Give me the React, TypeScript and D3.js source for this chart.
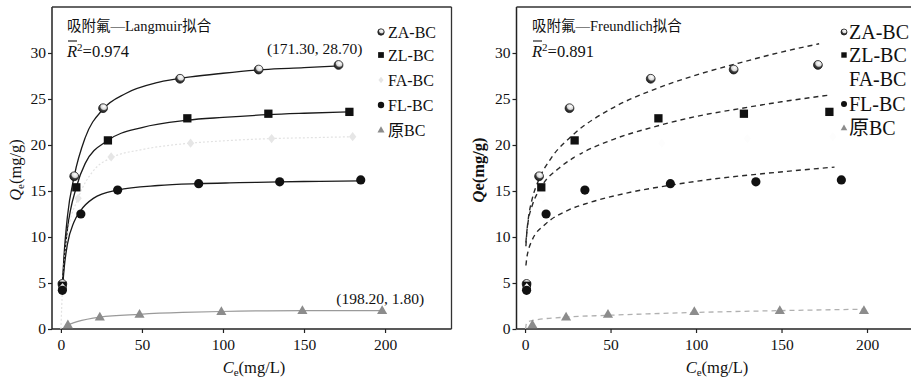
import React, { useEffect, useRef } from 'react';
import * as d3 from 'd3';

// measured points (Ce mg/L, Qe mg/g)
const zaCe = [0.9, 8.2, 26, 73.5, 122, 171.3];
const zaQe = [4.9, 16.6, 24.0, 27.2, 28.2, 28.7];
const zlCe = [1.0, 9.5, 29, 78, 128, 178];
const zlQe = [4.7, 15.4, 20.5, 22.9, 23.4, 23.6];
const faCe = [1.0, 10.6, 31, 80, 130, 180];
const faQe = [4.5, 14.2, 18.7, 20.2, 20.7, 20.9];
const flCe = [0.9, 12.3, 35, 85, 135, 185];
const flQe = [4.2, 12.5, 15.1, 15.8, 16.0, 16.2];
const rawCe = [4.3, 24, 48.5, 99, 149, 198.2];
const rawQe = [0.45, 1.3, 1.6, 1.9, 2.0, 2.0];

// Langmuir fit curves
const langZACe = [0.9, 2, 4, 8.2, 15, 26, 40, 60, 80, 100, 125, 150, 172];
const langZAQe = [4.9, 8.2, 12.2, 16.6, 20.8, 23.9, 25.6, 26.8, 27.4, 27.8, 28.2, 28.4, 28.6];
const langZLCe = [1, 2, 4, 9.5, 15, 29, 50, 78, 100, 128, 150, 178];
const langZLQe = [4.7, 7.4, 10.8, 15.4, 18.0, 20.5, 21.9, 22.7, 23.0, 23.3, 23.45, 23.6];
const langFACe = [0, 1, 2, 4, 10.6, 20, 31, 50, 80, 100, 130, 155, 180];
const langFAQe = [0, 4.5, 7.0, 10.2, 14.2, 17.2, 18.6, 19.5, 20.2, 20.45, 20.7, 20.8, 20.9];
const langFLCe = [0.9, 2, 4, 8, 12.3, 20, 35, 60, 85, 110, 135, 160, 185];
const langFLQe = [4.2, 6.6, 9.2, 11.6, 12.9, 14.2, 15.1, 15.6, 15.8, 15.9, 16.0, 16.05, 16.1];
const langRawCe = [4.3, 10, 24, 48.5, 75, 99, 149, 198.2];
const langRawQe = [0.45, 0.8, 1.3, 1.6, 1.8, 1.9, 2.0, 2.0];

// Freundlich fit curves
const frZACe = [0.5, 1, 2, 4, 8, 15, 28, 50, 75, 100, 125, 150, 172];
const frZAQe = [9.0, 10.4, 12.1, 14.0, 16.2, 18.5, 21.1, 23.9, 26.0, 27.6, 28.9, 30.1, 31.0];
const frZLCe = [0.5, 1, 2, 4, 10, 20, 33, 50, 76, 100, 127, 150, 177];
const frZLQe = [9.4, 10.5, 11.9, 13.3, 15.6, 17.5, 19.1, 20.5, 22.0, 23.1, 24.0, 24.7, 25.4];
const frFLCe = [0.5, 1, 2, 4, 12, 25, 37, 60, 84, 110, 140, 181];
const frFLQe = [6.9, 7.7, 8.6, 9.6, 11.4, 12.9, 13.7, 14.8, 15.6, 16.3, 16.9, 17.6];
const frRawCe = [0.3, 1, 5, 25, 50, 100, 150, 198];
const frRawQe = [0, 0.7, 0.95, 1.3, 1.5, 1.8, 2.0, 2.15];

const seriesNames = ['ZA-BC', 'ZL-BC', 'FA-BC', 'FL-BC', '原BC'];
const xTicks = [0, 50, 100, 150, 200];
const yTicks = [0, 5, 10, 15, 20, 25, 30];

const W = 911;
const H = 380;
const serif = '"Liberation Serif", "Times New Roman", Times, "DejaVu Serif", "Noto Sans CJK SC", serif';

type Marker = 'sphere' | 'square' | 'diamond' | 'circle' | 'triangle';

const drawMarker = (g: any, type: Marker, cx: number, cy: number, s: number, fill: string) => {
  if (type === 'sphere') {
    g.append('circle').attr('cx', cx).attr('cy', cy).attr('r', s)
      .attr('fill', 'url(#sphereGrad)').attr('stroke', '#1a1a1a').attr('stroke-width', 0.8);
  } else if (type === 'circle') {
    g.append('circle').attr('cx', cx).attr('cy', cy).attr('r', s).attr('fill', fill);
  } else if (type === 'square') {
    g.append('rect').attr('x', cx - s * 0.9).attr('y', cy - s * 0.9)
      .attr('width', s * 1.8).attr('height', s * 1.8).attr('fill', fill);
  } else if (type === 'diamond') {
    g.append('path')
      .attr('d', `M${cx},${cy - s}L${cx + s * 0.8},${cy}L${cx},${cy + s}L${cx - s * 0.8},${cy}Z`)
      .attr('fill', fill);
  } else {
    const h = s * 1.9;
    g.append('path')
      .attr('d', `M${cx},${cy - h * 0.6}L${cx + h * 0.58},${cy + h * 0.4}L${cx - h * 0.58},${cy + h * 0.4}Z`)
      .attr('fill', fill);
  }
};

const App = () => {
  const svgRef = useRef<SVGSVGElement>(null);

  useEffect(() => {
    const svg = d3.select(svgRef.current);
    svg.selectAll('*').remove();

    const defs = svg.append('defs');
    const grad = defs.append('radialGradient').attr('id', 'sphereGrad')
      .attr('cx', '0.6').attr('cy', '0.3').attr('r', '0.75');
    grad.append('stop').attr('offset', '0%').attr('stop-color', '#ffffff');
    grad.append('stop').attr('offset', '45%').attr('stop-color', '#d8d8d8');
    grad.append('stop').attr('offset', '62%').attr('stop-color', '#444');
    grad.append('stop').attr('offset', '100%').attr('stop-color', '#111');

    const y = d3.scaleLinear().domain([0, 35]).range([329, 7]);

    const pts = [
      { ce: zaCe, qe: zaQe, marker: 'sphere' as Marker, fill: '#222' },
      { ce: zlCe, qe: zlQe, marker: 'square' as Marker, fill: '#111' },
      { ce: faCe, qe: faQe, marker: 'diamond' as Marker, fill: '#e6e6e6' },
      { ce: flCe, qe: flQe, marker: 'circle' as Marker, fill: '#111' },
      { ce: rawCe, qe: rawQe, marker: 'triangle' as Marker, fill: '#8c8c8c' },
    ];

    const panels = [
      {
        xr: [52, 451.5], xd: [-5.5, 241], right: true,
        title: '吸附氟—Langmuir拟合', r2: '0.974', yBold: false,
        titleX: 67, axisTitleX: 254, yTitleX: 15,
        legX: 381, legTextX: 388, legRows: [32, 55, 80, 105, 130], legSize: 16, legMarker: 3.2,
        curves: [
          { ce: langZACe, qe: langZAQe, stroke: '#1a1a1a', dash: null, w: 1.3 },
          { ce: langZLCe, qe: langZLQe, stroke: '#1a1a1a', dash: null, w: 1.3 },
          { ce: langFACe, qe: langFAQe, stroke: '#e2e2e2', dash: '2,2', w: 1.2 },
          { ce: langFLCe, qe: langFLQe, stroke: '#1a1a1a', dash: null, w: 1.3 },
          { ce: langRawCe, qe: langRawQe, stroke: '#9a9a9a', dash: null, w: 1.2 },
        ],
        faLegend: '#e6e6e6', faFill: '#e6e6e6',
      },
      {
        xr: [516.5, 935.4], xd: [-5, 240], right: false,
        title: '吸附氟—Freundlich拟合', r2: '0.891', yBold: true,
        titleX: 532, axisTitleX: 717, yTitleX: 478,
        legX: 844, legTextX: 849, legRows: [32, 55, 79, 104, 128], legSize: 20, legMarker: 3,
        curves: [
          { ce: frZACe, qe: frZAQe, stroke: '#2a2a2a', dash: '5,4', w: 1.4 },
          { ce: frZLCe, qe: frZLQe, stroke: '#2a2a2a', dash: '5,4', w: 1.4 },
          { ce: frFLCe, qe: frFLQe, stroke: '#2a2a2a', dash: '5,4', w: 1.4 },
          { ce: frRawCe, qe: frRawQe, stroke: '#b0b0b0', dash: '5,4', w: 1.3 },
        ],
        faLegend: 'none', faFill: '#fdfdfd',
      },
    ];

    panels.forEach(p => {
      const x = d3.scaleLinear().domain(p.xd).range(p.xr);
      const g = svg.append('g').attr('font-family', serif);

      // axes
      const yAxis = d3.axisLeft(y).tickValues(yTicks).tickSize(4).tickPadding(2);
      const xAxis = d3.axisBottom(x).tickValues(xTicks).tickSize(4).tickPadding(6);
      g.append('g').attr('transform', `translate(${p.xr[0]},0)`).call(yAxis)
        .attr('font-family', serif).attr('font-size', 15.5);
      g.append('g').attr('transform', `translate(0,329)`).call(xAxis)
        .attr('font-family', serif).attr('font-size', 15.5);
      g.selectAll('.domain').remove();
      g.selectAll('.tick line').attr('stroke', '#222').attr('stroke-width', 1.2);
      g.selectAll('.tick text').attr('fill', '#111');

      // frame
      g.append('line').attr('x1', p.xr[0]).attr('x2', p.xr[0]).attr('y1', 7).attr('y2', 329)
        .attr('stroke', '#222').attr('stroke-width', 1.5);
      g.append('line').attr('x1', p.xr[0]).attr('x2', p.xr[1]).attr('y1', 329).attr('y2', 329)
        .attr('stroke', '#222').attr('stroke-width', 1.5);
      g.append('line').attr('x1', p.xr[0]).attr('x2', p.xr[1]).attr('y1', 7).attr('y2', 7)
        .attr('stroke', '#333').attr('stroke-width', 1.3);
      if (p.right) {
        g.append('line').attr('x1', p.xr[1]).attr('x2', p.xr[1]).attr('y1', 7).attr('y2', 329)
          .attr('stroke', '#333').attr('stroke-width', 1.3);
      }

      // fit curves
      const lineGen = d3.line<[number, number]>()
        .x(d => x(d[0]))
        .y(d => y(d[1]))
        .curve(d3.curveMonotoneX);
      p.curves.forEach(c => {
        const data = c.ce.map((v, i) => [v, c.qe[i]] as [number, number]);
        g.append('path').datum(data)
          .attr('fill', 'none')
          .attr('stroke', c.stroke)
          .attr('stroke-width', c.w)
          .attr('stroke-dasharray', c.dash)
          .attr('d', lineGen);
      });

      // points
      pts.forEach(s => {
        const fill = s.marker === 'diamond' ? p.faFill : s.fill;
        s.ce.forEach((v, i) => {
          drawMarker(g, s.marker, x(v), y(s.qe[i]), s.marker === 'sphere' ? 4.4 : 4.6, fill);
        });
      });

      // legend
      seriesNames.forEach((name, i) => {
        const cy = p.legRows[i];
        const fill = pts[i].marker === 'diamond' ? p.faLegend : pts[i].fill;
        if (fill !== 'none') drawMarker(g, pts[i].marker, p.legX, cy, p.legMarker, fill);
        g.append('text').attr('x', p.legTextX).attr('y', cy).attr('dy', '0.35em')
          .attr('font-size', p.legSize).attr('fill', '#111')
          .text(name);
      });

      // title and R2
      g.append('text').attr('x', p.titleX).attr('y', 31)
        .attr('font-size', 14.5).attr('fill', '#111')
        .text(p.title);
      const r2 = g.append('text').attr('x', p.titleX).attr('y', 57)
        .attr('font-size', 16.5).attr('fill', '#111');
      r2.append('tspan').attr('font-style', 'italic').text('R');
      r2.append('tspan').attr('dy', -6).attr('font-size', 11).text('2');
      r2.append('tspan').attr('dy', 6).text(`=${p.r2}`);
      g.append('line').attr('x1', p.titleX + 1).attr('x2', p.titleX + 10).attr('y1', 41).attr('y2', 41)
        .attr('stroke', '#111').attr('stroke-width', 1.1);

      // axis titles
      const xt = g.append('text').attr('x', p.axisTitleX).attr('y', 373).attr('text-anchor', 'middle')
        .attr('font-size', 16.5).attr('fill', '#111');
      xt.append('tspan').attr('font-style', 'italic').text('C');
      xt.append('tspan').attr('dy', 3).attr('font-size', 11).text('e');
      xt.append('tspan').attr('dy', -3).text('(mg/L)');

      const yt = g.append('text')
        .attr('transform', `translate(${p.yTitleX},170) rotate(-90)`)
        .attr('text-anchor', 'middle').attr('dy', '0.35em')
        .attr('font-size', 16.5).attr('fill', '#111')
        .attr('font-weight', p.yBold ? 'bold' : 'normal');
      yt.append('tspan').attr('font-style', 'italic').text('Q');
      if (p.yBold) {
        yt.append('tspan').text('e(mg/g)');
      } else {
        yt.append('tspan').attr('dy', 3).attr('font-size', 11).text('e');
        yt.append('tspan').attr('dy', -3).text('(mg/g)');
      }

      if (p.right) {
        const last = zaCe.length - 1;
        g.append('text').attr('x', x(zaCe[last]) + 24).attr('y', y(zaQe[last]) - 11)
          .attr('text-anchor', 'end')
          .attr('font-size', 15.5).attr('fill', '#111')
          .text(`(${zaCe[last].toFixed(2)}, ${zaQe[last].toFixed(2)})`);
        const lr = rawCe.length - 1;
        g.append('text').attr('x', x(rawCe[lr]) + 42).attr('y', y(rawQe[lr]) - 7)
          .attr('text-anchor', 'end')
          .attr('font-size', 15.5).attr('fill', '#111')
          .text(`(${rawCe[lr].toFixed(2)}, 1.80)`);
      }
    });
  }, []);

  return (
    <svg
      ref={svgRef}
      width={W}
      height={H}
      style={{ position: 'absolute', left: 0, top: 0, background: '#fff' }}
    />
  );
};

export default App;
